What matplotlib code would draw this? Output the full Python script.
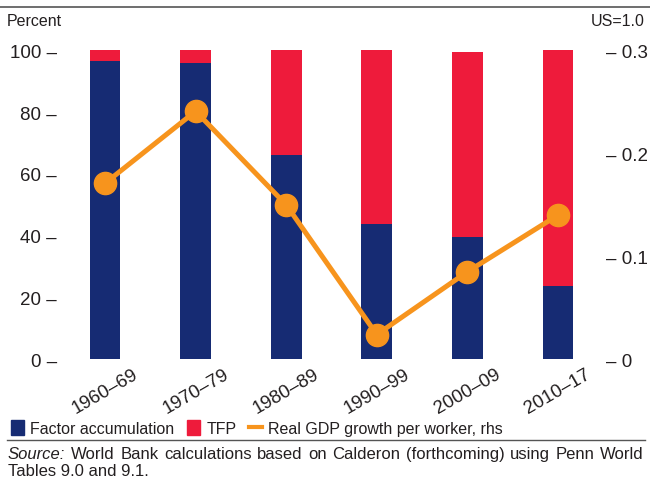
import matplotlib
matplotlib.use("Agg")
import matplotlib.pyplot as plt
from matplotlib.patches import Patch
from matplotlib.lines import Line2D
import numpy as np

plt.rcParams['font.family'] = ['Liberation Sans', 'DejaVu Sans']

categories = ["1960–69", "1970–79", "1980–89", "1990–99", "2000–09", "2010–17"]
factor = [96.5, 95.8, 66.0, 43.8, 39.6, 23.6]
tfp = [3.5, 4.2, 34.0, 56.2, 59.9, 76.4]
gdp_growth = [0.171, 0.241, 0.150, 0.024, 0.085, 0.140]
left_ticks = [0, 20, 40, 60, 80, 100]
right_ticks = [0, 0.1, 0.2, 0.3]
right_tick_labels = ["0", "0.1", "0.2", "0.3"]

NAVY = "#162B73"
RED = "#EE1B3B"
ORANGE = "#F7941D"
TXT = "#231F20"

W, H = 650, 481
fig = plt.figure(figsize=(6.5, 4.81), dpi=100)
ax = fig.add_axes([0.092, 0.251, 0.836, 0.642])
x = np.arange(len(categories))
w = 0.34
ax.bar(x, factor, w, color=NAVY, zorder=2)
ax.bar(x, tfp, w, bottom=factor, color=RED, zorder=2)
ax.set_xlim(-0.5, len(categories) - 0.5)
ax.set_ylim(0, 100)
ax.set_yticks(left_ticks)
ax.set_yticklabels([f"{v} –" for v in left_ticks])
ax.set_xticks(x)
ax.set_xticklabels(categories, rotation=30, ha="center", va="top")
ax.tick_params(axis="both", length=0, labelsize=13.5, colors=TXT)
ax.tick_params(axis="y", pad=2)
ax.tick_params(axis="x", pad=4)
for s in ax.spines.values():
    s.set_visible(False)

ax2 = ax.twinx()
ax2.plot(x, gdp_growth, color=ORANGE, lw=3.6, marker="o", ms=16, zorder=3)
ax2.set_ylim(0, 0.3)
ax2.set_yticks(right_ticks)
ax2.set_yticklabels([f"– {t}" for t in right_tick_labels])
ax2.tick_params(axis="y", length=0, labelsize=13.5, pad=2, colors=TXT)
for s in ax2.spines.values():
    s.set_visible(False)

fig.text(0.011, 0.955, "Percent", fontsize=11.5, va="center", ha="left", color=TXT)
fig.text(0.992, 0.955, "US=1.0", fontsize=11.5, va="center", ha="right", color=TXT)

fig.add_artist(Line2D([0, 1], [0.983, 0.983], color="#555555", lw=1.2, transform=fig.transFigure))
fig.add_artist(Line2D([0.011, 0.992], [1 - 441 / H, 1 - 441 / H], color="#555555", lw=1.0,
                      transform=fig.transFigure))

handles = [Patch(color=NAVY), Patch(color=RED), Line2D([0], [0], color=ORANGE, lw=3)]
labels = ["Factor accumulation", "TFP", "Real GDP growth per worker, rhs"]
fig.legend(handles, labels, loc="center left", bbox_to_anchor=(0.0, 0.108), ncol=3,
           frameon=False, fontsize=11.5, handlelength=0.8, handleheight=1.0,
           handletextpad=0.4, columnspacing=0.8, borderpad=0.2, labelcolor=TXT)

# Source note, first line justified
src_fs = 12
renderer = fig.canvas.get_renderer()
words1 = ["Source:", "World", "Bank", "calculations", "based", "on", "Calderon",
          "(forthcoming)", "using", "Penn", "World"]
x0, x1 = 8, 644
y1 = 1 - 455 / H
arts = []
for i, wd in enumerate(words1):
    t = fig.text(0, y1, wd, fontsize=src_fs, va="center", ha="left", color=TXT,
                 style="italic" if i == 0 else "normal")
    arts.append(t)
widths = [a.get_window_extent(renderer).width for a in arts]
gap = (x1 - x0 - sum(widths)) / (len(words1) - 1)
cx = x0
for a, wd in zip(arts, widths):
    a.set_x(cx / W)
    cx += wd + gap
fig.text(8 / W, 1 - 472 / H, "Tables 9.0 and 9.1.", fontsize=src_fs, va="center", ha="left", color=TXT)

plt.savefig("out.png", dpi=100)
